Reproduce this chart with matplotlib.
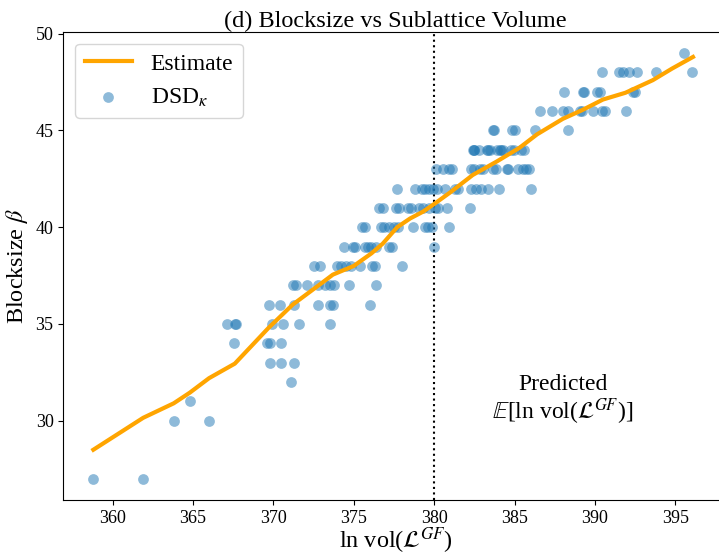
import matplotlib
matplotlib.use("Agg")
import matplotlib.pyplot as plt

plt.rcParams["font.family"] = "serif"
plt.rcParams["font.serif"] = ["Liberation Serif", "DejaVu Serif"]
plt.rcParams["mathtext.fontset"] = "stix"

# Observed blocksizes per log-volume, one list per blocksize row
rows = {
    27: [358.8, 361.9],
    30: [363.8, 366.0],
    31: [364.8],
    32: [371.1],
    33: [369.8, 370.5, 371.3],
    34: [367.55, 369.6, 369.8, 370.5],
    35: [367.1, 367.6, 367.7, 369.9, 370.6, 371.6, 373.5],
    36: [369.7, 370.4, 371.3, 372.8, 373.5, 373.7, 376.0],
    37: [371.2, 371.4, 372.1, 372.8, 373.2, 373.5, 373.8, 374.7, 376.4],
    38: [372.5, 372.9, 373.95, 374.2, 374.5, 374.85, 375.4, 376.15, 376.3, 378.0],
    39: [374.4, 374.95, 375.1, 375.7, 375.9, 376.1, 376.4, 377.2, 377.4, 380.0],
    40: [375.5, 375.7, 376.7, 376.9, 377.2, 377.5, 377.75, 378.7, 379.4, 379.6,
         379.85, 380.9],
    41: [376.6, 376.8, 377.6, 377.8, 378.4, 378.55, 379.05, 379.3, 379.7, 380.05,
         380.25, 380.8, 382.2],
    42: [377.7, 378.8, 379.25, 379.4, 379.7, 379.9, 380.15, 380.65, 381.3, 381.5,
         382.3, 382.6, 382.9, 383.35, 384.05, 386.05],
    43: [380.1, 380.55, 380.9, 381.1, 382.3, 382.5, 382.85, 383.05, 383.65, 383.85,
         384.55, 384.6, 385.2, 385.5, 385.7, 385.9],
    44: [382.4, 382.45, 382.5, 382.8, 383.3, 383.35, 383.45, 383.9, 384.1, 384.15,
         384.3, 384.8, 384.95, 385.4, 385.6],
    45: [383.65, 383.75, 384.85, 385.0, 386.3, 388.3],
    46: [386.6, 387.3, 388.0, 388.3, 389.05, 389.2, 389.9, 390.45, 390.6, 391.95],
    47: [388.05, 389.25, 389.35, 390.1, 390.3, 392.35, 392.5],
    48: [390.45, 391.5, 391.75, 392.1, 392.6, 393.8, 396.05],
    49: [395.55],
}
dsd_x = [x for b, xs in rows.items() for x in xs]
dsd_y = [b for b, xs in rows.items() for x in xs]

# Fitted blocksize estimate
est_x = [358.8, 361.9, 363.8, 364.8, 366.0, 367.6, 369.7, 371.2, 372.9, 373.7,
         375.0, 376.1, 376.8, 377.7, 378.5, 379.3, 380.0, 381.0, 382.4, 383.9,
         385.3, 386.4, 388.0, 389.2, 390.5, 391.9, 393.6, 394.8, 396.1]
est_y = [28.5, 30.15, 30.9, 31.45, 32.2, 32.95, 34.8, 36.0, 37.05, 37.55,
         38.0, 38.65, 39.15, 40.0, 40.45, 40.8, 41.2, 41.8, 42.7, 43.4,
         44.1, 44.8, 45.6, 46.05, 46.6, 46.95, 47.6, 48.2, 48.8]

predicted = 380.0

fig = plt.figure(figsize=(7.19, 5.55), dpi=100)
ax = fig.add_axes([0.088, 0.099, 0.925, 0.8437])

ax.plot(est_x, est_y, color="orange", lw=3, label="Estimate", zorder=3)
ax.scatter(dsd_x, dsd_y, s=60, color="tab:blue", alpha=0.5, linewidths=0,
           label=r"DSD$_\kappa$", zorder=2)
ax.axvline(predicted, color="black", ls=":", lw=1.5, zorder=1)
ax.text(388.0, 31.05, "Predicted\n" + r"$\mathbb{E}$[ln vol($\mathcal{L}^{GF}$)]",
        ha="center", va="center", fontsize=17, linespacing=1.05)

ax.set_xlim(356.93, 398.3)
ax.set_ylim(25.9, 50.1)
ax.set_xticks([360, 365, 370, 375, 380, 385, 390, 395])
ax.set_yticks([30, 35, 40, 45, 50])
ax.tick_params(labelsize=13)
ax.set_title("(d) Blocksize vs Sublattice Volume", fontsize=17.5, pad=3)
ax.set_xlabel(r"ln vol($\mathcal{L}^{GF}$)", fontsize=17.5, labelpad=-1)
ax.set_ylabel(r"Blocksize $\beta$", fontsize=17.5)
ax.legend(loc="upper left", fontsize=17, handlelength=2.0)

fig.savefig("out.png", dpi=100)
